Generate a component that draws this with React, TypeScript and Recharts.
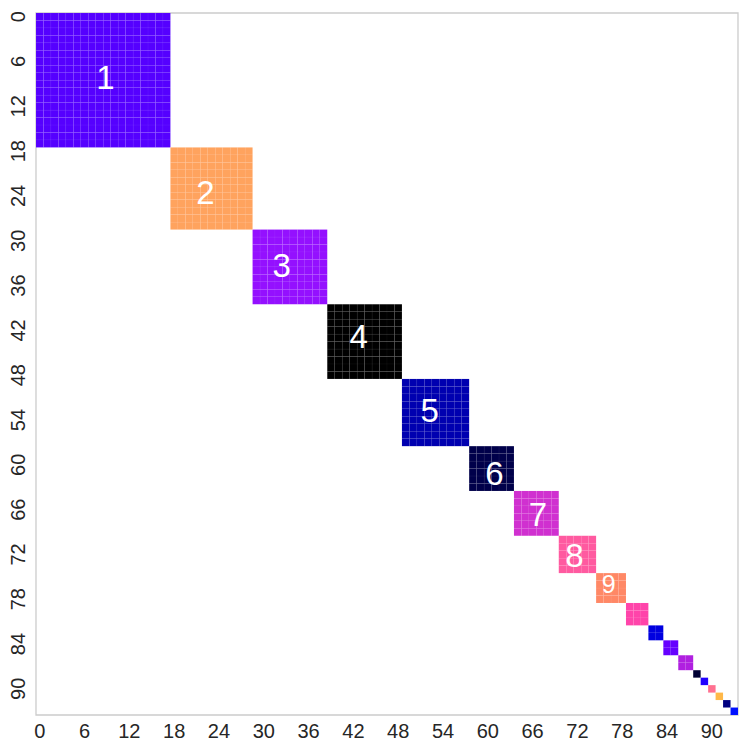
import React from "react";
import { ScatterChart, Scatter, XAxis, YAxis, ReferenceArea } from "recharts";

// block sizes along the diagonal (cells per cluster), in order
const BLOCK_SIZES = [18, 11, 10, 10, 9, 6, 6, 5, 4, 3, 2, 2, 2, 1, 1, 1, 1, 1, 1];
const BLOCK_COLORS = [
  "#5500ff", "#ffa35e", "#9410ff", "#000000", "#0000b0", "#00004a",
  "#d030d0", "#ff5aa0", "#ff8866", "#ff44aa", "#0000e0", "#6600ff",
  "#b020e0", "#000033", "#2000ff", "#ff7090", "#ffb848", "#000080", "#0010ff",
];
// cluster labels and where they sit (cell coordinates)
const LABELS = ["1", "2", "3", "4", "5", "6", "7", "8", "9"];
const LABEL_X = [8.8, 22.2, 32.4, 42.7, 52.2, 60.9, 66.7, 71.6, 76.2];
const LABEL_Y = [8.1, 23.6, 33.3, 42.8, 52.7, 61.1, 66.7, 72.1, 76.0];
const TICKS = [0, 6, 12, 18, 24, 30, 36, 42, 48, 54, 60, 66, 72, 78, 84, 90];

const N = BLOCK_SIZES.reduce((a, b) => a + b, 0);

const CHART_W = 740;
const CHART_H = 743;
const MARGIN = { top: 5, right: 10, left: 0, bottom: 0 };
const Y_AXIS_W = 28;
const X_AXIS_H = 36;
const PLOT_W = CHART_W - MARGIN.left - MARGIN.right - Y_AXIS_W;
const PLOT_H = CHART_H - MARGIN.top - MARGIN.bottom - X_AXIS_H;
const CELL_W = PLOT_W / N;
const CELL_H = PLOT_H / N;

const FONT = '"Liberation Sans", Arial, sans-serif';

type Cell = { x: number; y: number; color: string };
type LabelPt = { x: number; y: number; label: string; size: number };

const cells: Cell[] = [];
let start = 0;
BLOCK_SIZES.forEach((n, b) => {
  for (let i = 0; i < n; i++) {
    for (let j = 0; j < n; j++) {
      cells.push({ x: start + i, y: start + j, color: BLOCK_COLORS[b] });
    }
  }
  start += n;
});

const labels: LabelPt[] = LABELS.map((label, i) => ({
  x: LABEL_X[i],
  y: LABEL_Y[i],
  label,
  size: BLOCK_SIZES[i] >= 5 ? 33 : 25,
}));

const renderCell = (props: any) => {
  const { cx, cy, payload } = props;
  return (
    <rect
      x={cx - CELL_W / 2}
      y={cy - CELL_H / 2}
      width={CELL_W}
      height={CELL_H}
      fill={payload.color}
      stroke="rgba(255,255,255,0.05)"
      strokeWidth={0.6}
    />
  );
};

const renderLabel = (props: any) => {
  const { cx, cy, payload } = props;
  return (
    <text
      x={cx}
      y={cy}
      textAnchor="middle"
      dominantBaseline="central"
      fill="#ffffff"
      fontSize={payload.size}
      fontFamily={FONT}
    >
      {payload.label}
    </text>
  );
};

const XTick = (props: any) => {
  const { x, y, payload } = props;
  return (
    <text x={x} y={y + 23} textAnchor="middle" fill="#262626" fontSize={20} fontFamily={FONT}>
      {payload.value}
    </text>
  );
};

const YTick = (props: any) => {
  const { x, y, payload } = props;
  const tx = x - 11;
  return (
    <text
      x={tx}
      y={y}
      textAnchor="middle"
      transform={`rotate(-90 ${tx} ${y})`}
      fill="#262626"
      fontSize={20}
      fontFamily={FONT}
    >
      {payload.value}
    </text>
  );
};

export default function App() {
  return (
    <div style={{ width: CHART_W, height: CHART_H }}>
      <ScatterChart width={CHART_W} height={CHART_H} margin={MARGIN}>
        <XAxis
          type="number"
          dataKey="x"
          domain={[-0.5, N - 0.5]}
          ticks={TICKS}
          interval={0}
          height={X_AXIS_H}
          tick={<XTick />}
          tickLine={false}
          tickSize={0}
          tickMargin={0}
          axisLine={false}
          allowDataOverflow
        />
        <YAxis
          type="number"
          dataKey="y"
          domain={[-0.5, N - 0.5]}
          ticks={TICKS}
          interval={0}
          reversed
          width={Y_AXIS_W}
          tick={<YTick />}
          tickLine={false}
          tickSize={0}
          tickMargin={0}
          axisLine={false}
          allowDataOverflow
        />
        <Scatter data={cells} shape={renderCell} isAnimationActive={false} />
        <Scatter data={labels} shape={renderLabel} isAnimationActive={false} />
        <ReferenceArea
          x1={-0.5}
          x2={N - 0.5}
          y1={-0.5}
          y2={N - 0.5}
          fill="none"
          stroke="#cccccc"
          strokeWidth={1.3}
          ifOverflow="visible"
        />
      </ScatterChart>
    </div>
  );
}
